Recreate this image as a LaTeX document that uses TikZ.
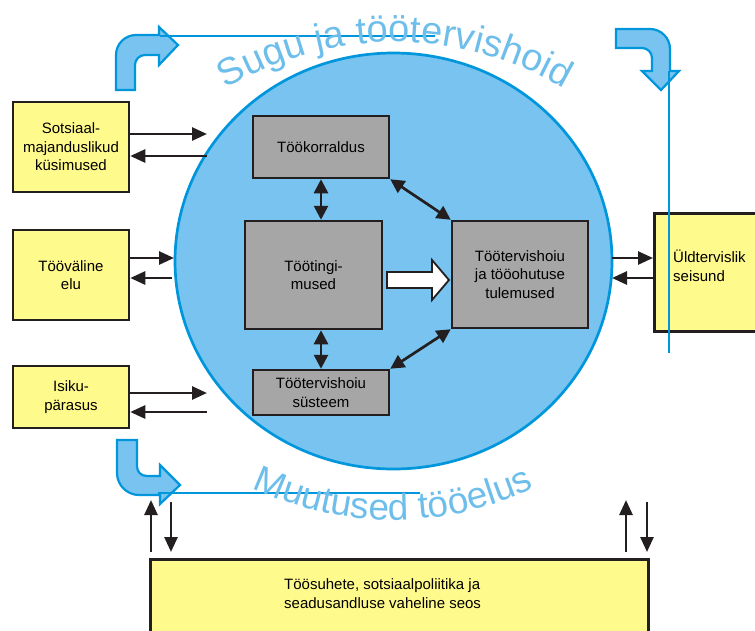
\documentclass[tikz,border=0pt]{standalone}
\usepackage{fontspec}
\setmainfont{Liberation Sans}
\usetikzlibrary{arrows.meta,decorations.text,calc,shapes.geometric}
\definecolor{ylw}{RGB}{255,250,140}
\definecolor{gry}{RGB}{166,166,166}
\definecolor{cfill}{RGB}{120,195,240}
\definecolor{cline}{RGB}{0,150,220}
\definecolor{ctext}{RGB}{110,190,235}
\definecolor{ink}{RGB}{35,31,32}
\begin{document}
\begin{tikzpicture}[x=1pt,y=-1pt,
  boxfont/.style={font=\fontsize{15}{18.5}\selectfont},
  ybox/.style={draw=ink, line width=2.5pt, fill=ylw, align=center, boxfont, inner sep=0pt},
  gbox/.style={draw=ink, line width=2.5pt, fill=gry, align=center, boxfont, inner sep=0pt},
  plaintext/.style={align=left, boxfont, inner sep=0pt, anchor=west},
  arr/.style={draw=ink, line width=2.7pt, -{Triangle[length=15pt,width=13pt]}},
  darr/.style={draw=ink, line width=2.7pt, {Triangle[length=14pt,width=14pt]}-{Triangle[length=14pt,width=14pt]}},
  barrow/.style={draw=cline, line width=2.2pt, fill=cfill},
  thinline/.style={draw=cline, line width=1.6pt}
]
\useasboundingbox (0,0) rectangle (755,630);
\clip (0,0) rectangle (755,630);

% central circle
\node[ellipse, draw=cline, fill=cfill, line width=2.7pt, minimum width=437pt, minimum height=416pt, inner sep=0pt] (circ) at (393.5,261) {};

% curved block arrows
\path[barrow] (116,90) -- (116,55) .. controls (116,44) and (125,35) .. (136,35) -- (159,35) -- (159,27) -- (178,45) -- (159,65) -- (159,55) -- (145,55) .. controls (139.5,55) and (135,59.5) .. (135,65) -- (135,90) -- cycle;
\path[barrow] (616,29) -- (650,29) .. controls (661,29) and (670,38) .. (670,49) -- (670,71) -- (679,71) -- (661,90) -- (642,71) -- (652,71) -- (652,58) .. controls (652,52.5) and (647.5,48) .. (642,48) -- (616,48) -- cycle;
\path[barrow] (117,440) -- (137,440) -- (137,466) .. controls (137,472) and (141,476) .. (147,476) -- (160,476) -- (160,465) -- (180,485) -- (160,504) -- (160,495) -- (139,495) .. controls (127,495) and (117,485) .. (117,473) -- cycle;

% yellow boxes
\node[ybox, minimum width=116pt, minimum height=90pt] (s1) at (71,147) {Sotsiaal-\\majanduslikud\\küsimused};
\node[ybox, minimum width=116pt, minimum height=90pt] (s2) at (71,275) {Tööväline\\elu};
\node[ybox, minimum width=116pt, minimum height=62pt] (s3) at (71,397) {Isiku-\\pärasus};
\node[ybox, minimum width=120pt, minimum height=118pt, anchor=north west] (ud) at (653,212) {};
\node[plaintext] (udt) at (673,266) {Üldtervislik\\seisund};
\node[ybox, minimum width=498pt, minimum height=90pt, anchor=north west] (bb) at (149,558) {};
\node[plaintext] (bbt) at (284,593.5) {Töösuhete, sotsiaalpoliitika ja\\seadusandluse vaheline seos};

% grey boxes
\node[gbox, minimum width=136pt, minimum height=62pt] (tk) at (321,147) {Töökorraldus};
\node[gbox, minimum width=137pt, minimum height=108pt] (tt) at (313.5,275) {Töötingi-\\mused};
\node[gbox, minimum width=136pt, minimum height=45pt] (ts) at (321,392.5) {Töötervishoiu\\süsteem};
\node[gbox, minimum width=136pt, minimum height=107pt] (tr) at (520,274.5) {Töötervishoiu\\ja tööohutuse\\tulemused};

% free ends
\coordinate (c1a) at (207,134); \coordinate (c1b) at (207,156);
\coordinate (c2a) at (174,258); \coordinate (c2b) at (172,278);
\coordinate (c3a) at (207,393); \coordinate (c3b) at (207,412);
\coordinate (c4a) at (612,258); \coordinate (c4b) at (612,278);
\coordinate (c5a) at (151,500); \coordinate (c5b) at (171,502);
\coordinate (c6a) at (626,500); \coordinate (c6b) at (647,502);

% side arrows
\draw[arr] (s1.east |- c1a) -- (c1a);
\draw[arr] (c1b) -- (s1.east |- c1b);
\draw[arr] (s2.east |- c2a) -- (c2a);
\draw[arr] (c2b) -- (s2.east |- c2b);
\draw[arr] (s3.east |- c3a) -- (c3a);
\draw[arr] (c3b) -- (s3.east |- c3b);
\draw[arr] (c4a) -- (ud.west |- c4a);
\draw[arr] (ud.west |- c4b) -- (c4b);
\draw[arr, shorten <=6pt] (bb.north -| c5a) -- (c5a);
\draw[arr, shorten >=6pt] (c5b) -- (bb.north -| c5b);
\draw[arr, shorten <=6pt] (bb.north -| c6a) -- (c6a);
\draw[arr, shorten >=6pt] (c6b) -- (bb.north -| c6b);

% inner arrows
\draw[darr] (tk.south) -- (tk.south |- tt.north);
\draw[darr] (ts.north) -- (ts.north |- tt.south);
\draw[darr] (tk.south east) -- (tr.north west);
\draw[darr] (ts.north east) -- (tr.south west);
\draw[draw=ink, line width=1.8pt, fill=white] (387,272) -- (432,272) -- (432,260) -- (449,280) -- (432,300) -- (432,288) -- (387,288) -- cycle;

% thin blue lines
\draw[thinline] (160,36) -- (435,36);
\draw[thinline] (669,71) -- (669,353);
\draw[thinline] (158,493) -- (420,493);

% arc texts
\path[decorate, decoration={text along path, text align=center, text={|\color{ctext}\fontsize{38}{38}\selectfont|Sugu ja töötervishoid}}]
  plot[domain=-150:-30, samples=121] ({395+330*cos(\x)},{372+330*sin(\x)});
\path[decorate, decoration={text along path, text align=center, text={|\color{ctext}\fontsize{37}{37}\selectfont|Muutused tööelus}}]
  plot[domain=-150:-30, samples=121] ({393+326*cos(\x)},{194-326*sin(\x)});
\end{tikzpicture}
\end{document}
